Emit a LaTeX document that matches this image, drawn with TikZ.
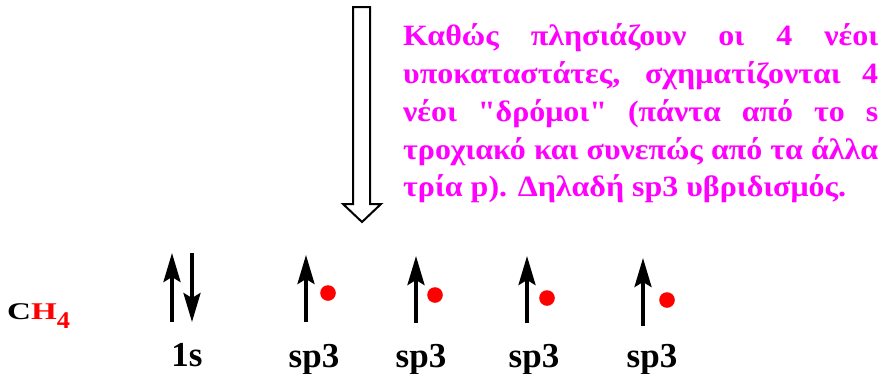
\documentclass[tikz,border=0pt]{standalone}
\usepackage{fontspec}
\setmainfont{Liberation Serif}
\newfontfamily\plainquote{Liberation Serif}[Ligatures=TeXOff]
\usetikzlibrary{arrows.meta}
\definecolor{mag}{RGB}{255,0,255}
\definecolor{hred}{RGB}{255,0,0}
\tikzset{
  spin/.style={line width=3.6pt, -{Stealth[length=29pt,width=17pt,inset=5pt]}},
  para/.style={anchor=base west, inner sep=0pt, text=mag,
    font=\fontsize{29.5}{38}\selectfont\bfseries},
  lbl/.style={anchor=base, inner sep=0pt, font=\fontsize{35}{40}\selectfont\bfseries},
  elec/.style={fill=hred, draw=none},
}
% one justified line of the paragraph, slightly widened
\newcommand{\jline}[1]{\scalebox{1.083}[1]{\makebox[438.6pt][s]{#1}}}
\newcommand{\wline}[1]{\scalebox{1.083}[1]{#1}}
\newcommand{\qd}{{\plainquote\bfseries"}}
\begin{document}
\begin{tikzpicture}[x=1pt,y=-1pt]
\useasboundingbox (0,0) rectangle (885,373);

% hollow arrow pointing down
\draw[line width=2pt, fill=white]
  (353,7) -- (370,7) -- (370,204) -- (381,204) -- (362,222)
  -- (343,204) -- (353,204) -- cycle;

% explanatory paragraph
\node[para] (t1) at (403,45)  {\jline{Καθώς πλησιάζουν οι 4 νέοι}};
\node[para] (t2) at (403,83)  {\jline{υποκαταστάτες, σχηματίζονται 4}};
\node[para] (t3) at (403,121) {\jline{νέοι \qd δρόμοι\qd\ (πάντα από το s}};
\node[para] (t4) at (403,159) {\jline{τροχιακό και συνεπώς από τα άλλα}};
\node[para] (t5) at (403,196) {\wline{τρία p). Δηλαδή sp3 υβριδισμός.}};

% molecule label
\node[anchor=base west, inner sep=0pt] (ch4) at (7,319)
  {\fontsize{24}{26}\selectfont\bfseries
   \scalebox{1.38}[1]{C\textcolor{hred}{H}}%
   \textcolor{hred}{\raisebox{-9pt}{\scalebox{1.1}[1]{4}}}};

% 1s orbital: paired electrons
\draw[spin] (172,322) -- (172,253);
\draw[spin] (192,253) -- (192,322);
\node[lbl] (s1) at (187,366) {1s};

% four sp3 orbitals, each with one electron and one incoming H electron
\draw[spin] (306,322) -- (306,255);
\fill[elec] (328,293) circle (7.8);
\node[lbl] (h1) at (314,367) {sp3};

\draw[spin] (416,323) -- (416,256);
\fill[elec] (435,295) circle (7.8);
\node[lbl] (h2) at (421,367) {sp3};

\draw[spin] (527,323) -- (527,256);
\fill[elec] (547,298) circle (7.8);
\node[lbl] (h3) at (534,367) {sp3};

\draw[spin] (643,326) -- (643,258);
\fill[elec] (667,300) circle (7.8);
\node[lbl] (h4) at (652,367) {sp3};
\end{tikzpicture}
\end{document}
